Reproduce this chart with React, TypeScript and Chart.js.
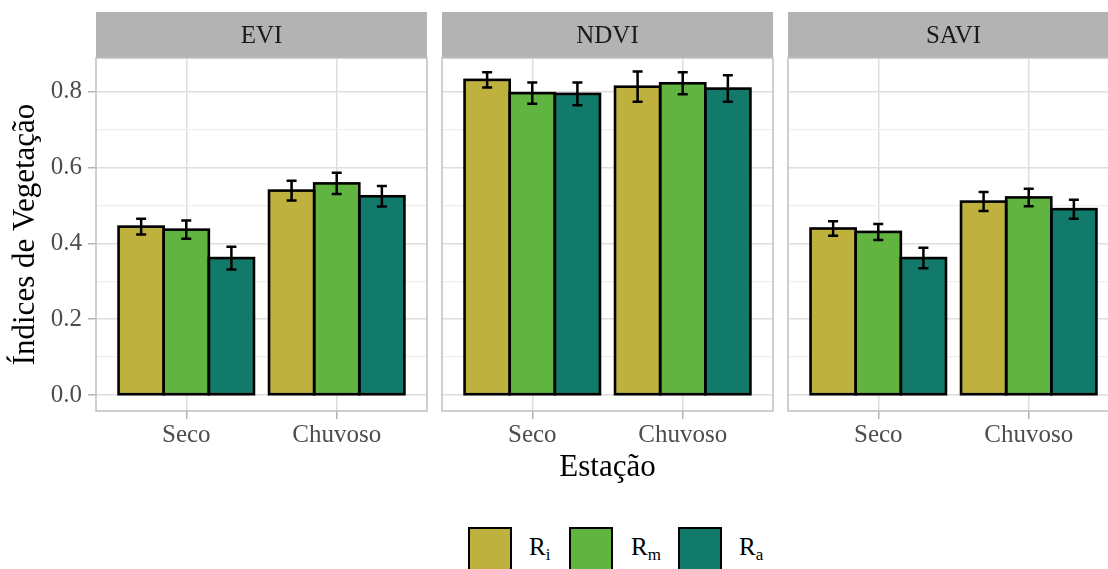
import React, { useEffect, useRef } from 'react';
import { Chart, registerables } from 'chart.js';

Chart.register(...registerables);

// ---------- data ----------
const PANELS = ['EVI', 'NDVI', 'SAVI'];
const SEASONS = ['Seco', 'Chuvoso'];
const SERIES = ['Ri', 'Rm', 'Ra'];
const SERIES_SUB = ['i', 'm', 'a'];
const COLORS = ['#BEB13E', '#62B441', '#127A6A'];

const EVI_RI = [0.444, 0.539];
const EVI_RM = [0.436, 0.558];
const EVI_RA = [0.361, 0.524];
const EVI_RI_ERR = [0.021, 0.026];
const EVI_RM_ERR = [0.024, 0.028];
const EVI_RA_ERR = [0.030, 0.027];

const NDVI_RI = [0.831, 0.813];
const NDVI_RM = [0.796, 0.822];
const NDVI_RA = [0.794, 0.808];
const NDVI_RI_ERR = [0.020, 0.040];
const NDVI_RM_ERR = [0.028, 0.029];
const NDVI_RA_ERR = [0.030, 0.035];

const SAVI_RI = [0.439, 0.510];
const SAVI_RM = [0.430, 0.521];
const SAVI_RA = [0.361, 0.490];
const SAVI_RI_ERR = [0.019, 0.025];
const SAVI_RM_ERR = [0.021, 0.023];
const SAVI_RA_ERR = [0.027, 0.025];

const Y_MAJOR = [0, 0.2, 0.4, 0.6, 0.8];
const Y_MINOR = [0.1, 0.3, 0.5, 0.7];

const PANEL_VALUES = [
  [EVI_RI, EVI_RM, EVI_RA],
  [NDVI_RI, NDVI_RM, NDVI_RA],
  [SAVI_RI, SAVI_RM, SAVI_RA],
];
const PANEL_ERRORS = [
  [EVI_RI_ERR, EVI_RM_ERR, EVI_RA_ERR],
  [NDVI_RI_ERR, NDVI_RM_ERR, NDVI_RA_ERR],
  [SAVI_RI_ERR, SAVI_RM_ERR, SAVI_RA_ERR],
];

// ---------- layout ----------
const Y_MIN = -0.0423;
const Y_MAX = 0.8887;
const PANEL_LEFT = [96, 442, 788];
const PANEL_W = 331;
const WRAP_H = 500;
const PLOT_TOP = 58;
const STRIP_TOP = 12;
const X_AXIS_H = 72;
const PLOT_H = 353;

const FONT = "'Liberation Serif', 'Times New Roman', serif";
const isMajor = (v: number) => Y_MAJOR.some((m) => Math.abs(m - v) < 1e-9);

function Panel({ idx }: { idx: number }) {
  const ref = useRef<HTMLCanvasElement>(null);
  const first = idx === 0;
  const padLeft = first ? 0 : 4;
  const yAxisW = first ? PANEL_LEFT[0] : 0;
  const wrapLeft = first ? 0 : PANEL_LEFT[idx] - 4;
  const wrapW = padLeft + yAxisW + PANEL_W + 4;

  useEffect(() => {
    const vals = PANEL_VALUES[idx];
    const errs = PANEL_ERRORS[idx];

    const stripPlugin = {
      id: 'strip',
      beforeDraw(chart: any) {
        const { ctx, chartArea } = chart;
        ctx.save();
        ctx.fillStyle = '#B3B3B3';
        ctx.fillRect(chartArea.left, STRIP_TOP, chartArea.right - chartArea.left, PLOT_TOP - STRIP_TOP);
        ctx.fillStyle = '#1A1A1A';
        ctx.font = `25px ${FONT}`;
        ctx.textAlign = 'center';
        ctx.textBaseline = 'middle';
        ctx.fillText(PANELS[idx], (chartArea.left + chartArea.right) / 2, (STRIP_TOP + PLOT_TOP) / 2 + 1);
        ctx.restore();
      },
    };

    const outlinePlugin = {
      id: 'outline',
      afterDatasetsDraw(chart: any) {
        const { ctx, scales } = chart;
        ctx.save();
        ctx.strokeStyle = '#000';
        ctx.lineWidth = 2.6;
        chart.data.datasets.forEach((_: any, di: number) => {
          const meta = chart.getDatasetMeta(di);
          meta.data.forEach((el: any) => {
            const p = el.getProps(['x', 'y', 'base', 'width'], true);
            ctx.strokeRect(p.x - p.width / 2, p.y, p.width, p.base - p.y);
          });
        });
        // error bars
        ctx.lineWidth = 2.5;
        ctx.lineCap = 'butt';
        chart.data.datasets.forEach((_: any, di: number) => {
          const meta = chart.getDatasetMeta(di);
          meta.data.forEach((el: any, k: number) => {
            const x = el.getProps(['x'], true).x;
            const v = vals[di][k];
            const e = errs[di][k];
            const yHi = scales.y.getPixelForValue(v + e);
            const yLo = scales.y.getPixelForValue(v - e);
            const cap = 5;
            ctx.beginPath();
            ctx.moveTo(x, yHi);
            ctx.lineTo(x, yLo);
            ctx.moveTo(x - cap, yHi);
            ctx.lineTo(x + cap, yHi);
            ctx.moveTo(x - cap, yLo);
            ctx.lineTo(x + cap, yLo);
            ctx.stroke();
          });
        });
        ctx.restore();
      },
    };

    const borderPlugin = {
      id: 'panelBorder',
      afterDraw(chart: any) {
        const { ctx, chartArea } = chart;
        ctx.save();
        ctx.strokeStyle = '#C4C4C4';
        ctx.lineWidth = 1.6;
        ctx.strokeRect(chartArea.left, chartArea.top, chartArea.right - chartArea.left, chartArea.bottom - chartArea.top);
        ctx.restore();
      },
    };

    const chart = new Chart(ref.current as HTMLCanvasElement, {
      type: 'bar',
      data: {
        datasets: SERIES.map((s, i) => ({
          label: s,
          data: SEASONS.map((_, k) => ({ x: k + 1, y: vals[i][k] })),
          backgroundColor: COLORS[i],
          borderWidth: 0,
          categoryPercentage: 0.9,
          barPercentage: 1,
        })),
      },
      options: {
        animation: false,
        responsive: true,
        maintainAspectRatio: false,
        layout: {
          padding: {
            left: padLeft,
            right: 4,
            top: PLOT_TOP,
            bottom: WRAP_H - PLOT_TOP - PLOT_H - X_AXIS_H,
          },
        },
        plugins: {
          legend: { display: false },
          tooltip: { enabled: false },
        },
        scales: {
          x: {
            type: 'linear',
            min: 0.4,
            max: 2.6,
            offset: false,
            afterBuildTicks: (axis: any) => {
              axis.ticks = SEASONS.map((_, k) => ({ value: k + 1 }));
            },
            afterFit: (axis: any) => {
              axis.height = X_AXIS_H;
            },
            border: { display: false },
            grid: {
              offset: false,
              color: '#DEDEDE',
              lineWidth: 1.5,
              drawTicks: true,
              tickLength: 8,
              tickColor: '#B3B3B3',
              tickWidth: 1.5,
            },
            ticks: {
              autoSkip: false,
              maxRotation: 0,
              padding: 1,
              color: '#4D4D4D',
              font: { family: FONT, size: 25 },
              callback: (_v: any, i: number) => SEASONS[i],
            },
            title: {
              display: idx === 1,
              text: 'Estação',
              color: '#000',
              font: { family: FONT, size: 31, lineHeight: 1 },
              padding: { top: 0, bottom: 0 },
            },
          },
          y: {
            type: 'linear',
            min: Y_MIN,
            max: Y_MAX,
            afterBuildTicks: (axis: any) => {
              axis.ticks = [...Y_MAJOR, ...Y_MINOR].sort((a, b) => a - b).map((v) => ({ value: v }));
            },
            afterFit: (axis: any) => {
              axis.width = yAxisW;
            },
            border: { display: false },
            grid: {
              color: (c: any) => (isMajor(c.tick.value) ? '#DEDEDE' : '#EEEEEE'),
              lineWidth: (c: any) => (isMajor(c.tick.value) ? 1.5 : 1.2),
              drawTicks: first,
              tickLength: first ? 8 : 0,
              tickColor: (c: any) => (isMajor(c.tick.value) ? '#B3B3B3' : 'rgba(0,0,0,0)'),
              tickWidth: 1.5,
            },
            ticks: {
              display: first,
              autoSkip: false,
              padding: 6,
              color: '#4D4D4D',
              font: { family: FONT, size: 25 },
              callback: (v: any) => (isMajor(Number(v)) ? Number(v).toFixed(1) : ''),
            },
            title: {
              display: first,
              text: 'Índices de Vegetação',
              color: '#000',
              font: { family: FONT, size: 31, lineHeight: 1 },
              padding: { top: 10, bottom: 0 },
            },
          },
        },
      } as any,
      plugins: [stripPlugin, outlinePlugin, borderPlugin],
    });
    return () => chart.destroy();
  }, []);

  return (
    <div style={{ position: 'absolute', left: wrapLeft, top: 0, width: wrapW, height: WRAP_H }}>
      <canvas ref={ref} />
    </div>
  );
}

const LEGEND_BOX_LEFT = [468, 569, 678];
const LEGEND_TEXT_LEFT = [529, 631, 739];

export default function App() {
  return (
    <div
      style={{
        position: 'absolute',
        left: 0,
        top: 0,
        width: 1108,
        height: 569,
        overflow: 'hidden',
        background: '#fff',
      }}
    >
      {PANELS.map((_, i) => (
        <Panel key={i} idx={i} />
      ))}
      {SERIES.map((s, i) => (
        <React.Fragment key={s}>
          <div
            style={{
              position: 'absolute',
              left: LEGEND_BOX_LEFT[i],
              top: 527,
              width: 44,
              height: 44,
              boxSizing: 'border-box',
              border: '2.5px solid #000',
              background: COLORS[i],
            }}
          />
          <div
            style={{
              position: 'absolute',
              left: LEGEND_TEXT_LEFT[i],
              top: 534,
              fontFamily: FONT,
              fontSize: 25,
              lineHeight: '25px',
              color: '#000',
              whiteSpace: 'nowrap',
            }}
          >
            R
            <span style={{ fontSize: 17, position: 'relative', top: 5 }}>{SERIES_SUB[i]}</span>
          </div>
        </React.Fragment>
      ))}
    </div>
  );
}
